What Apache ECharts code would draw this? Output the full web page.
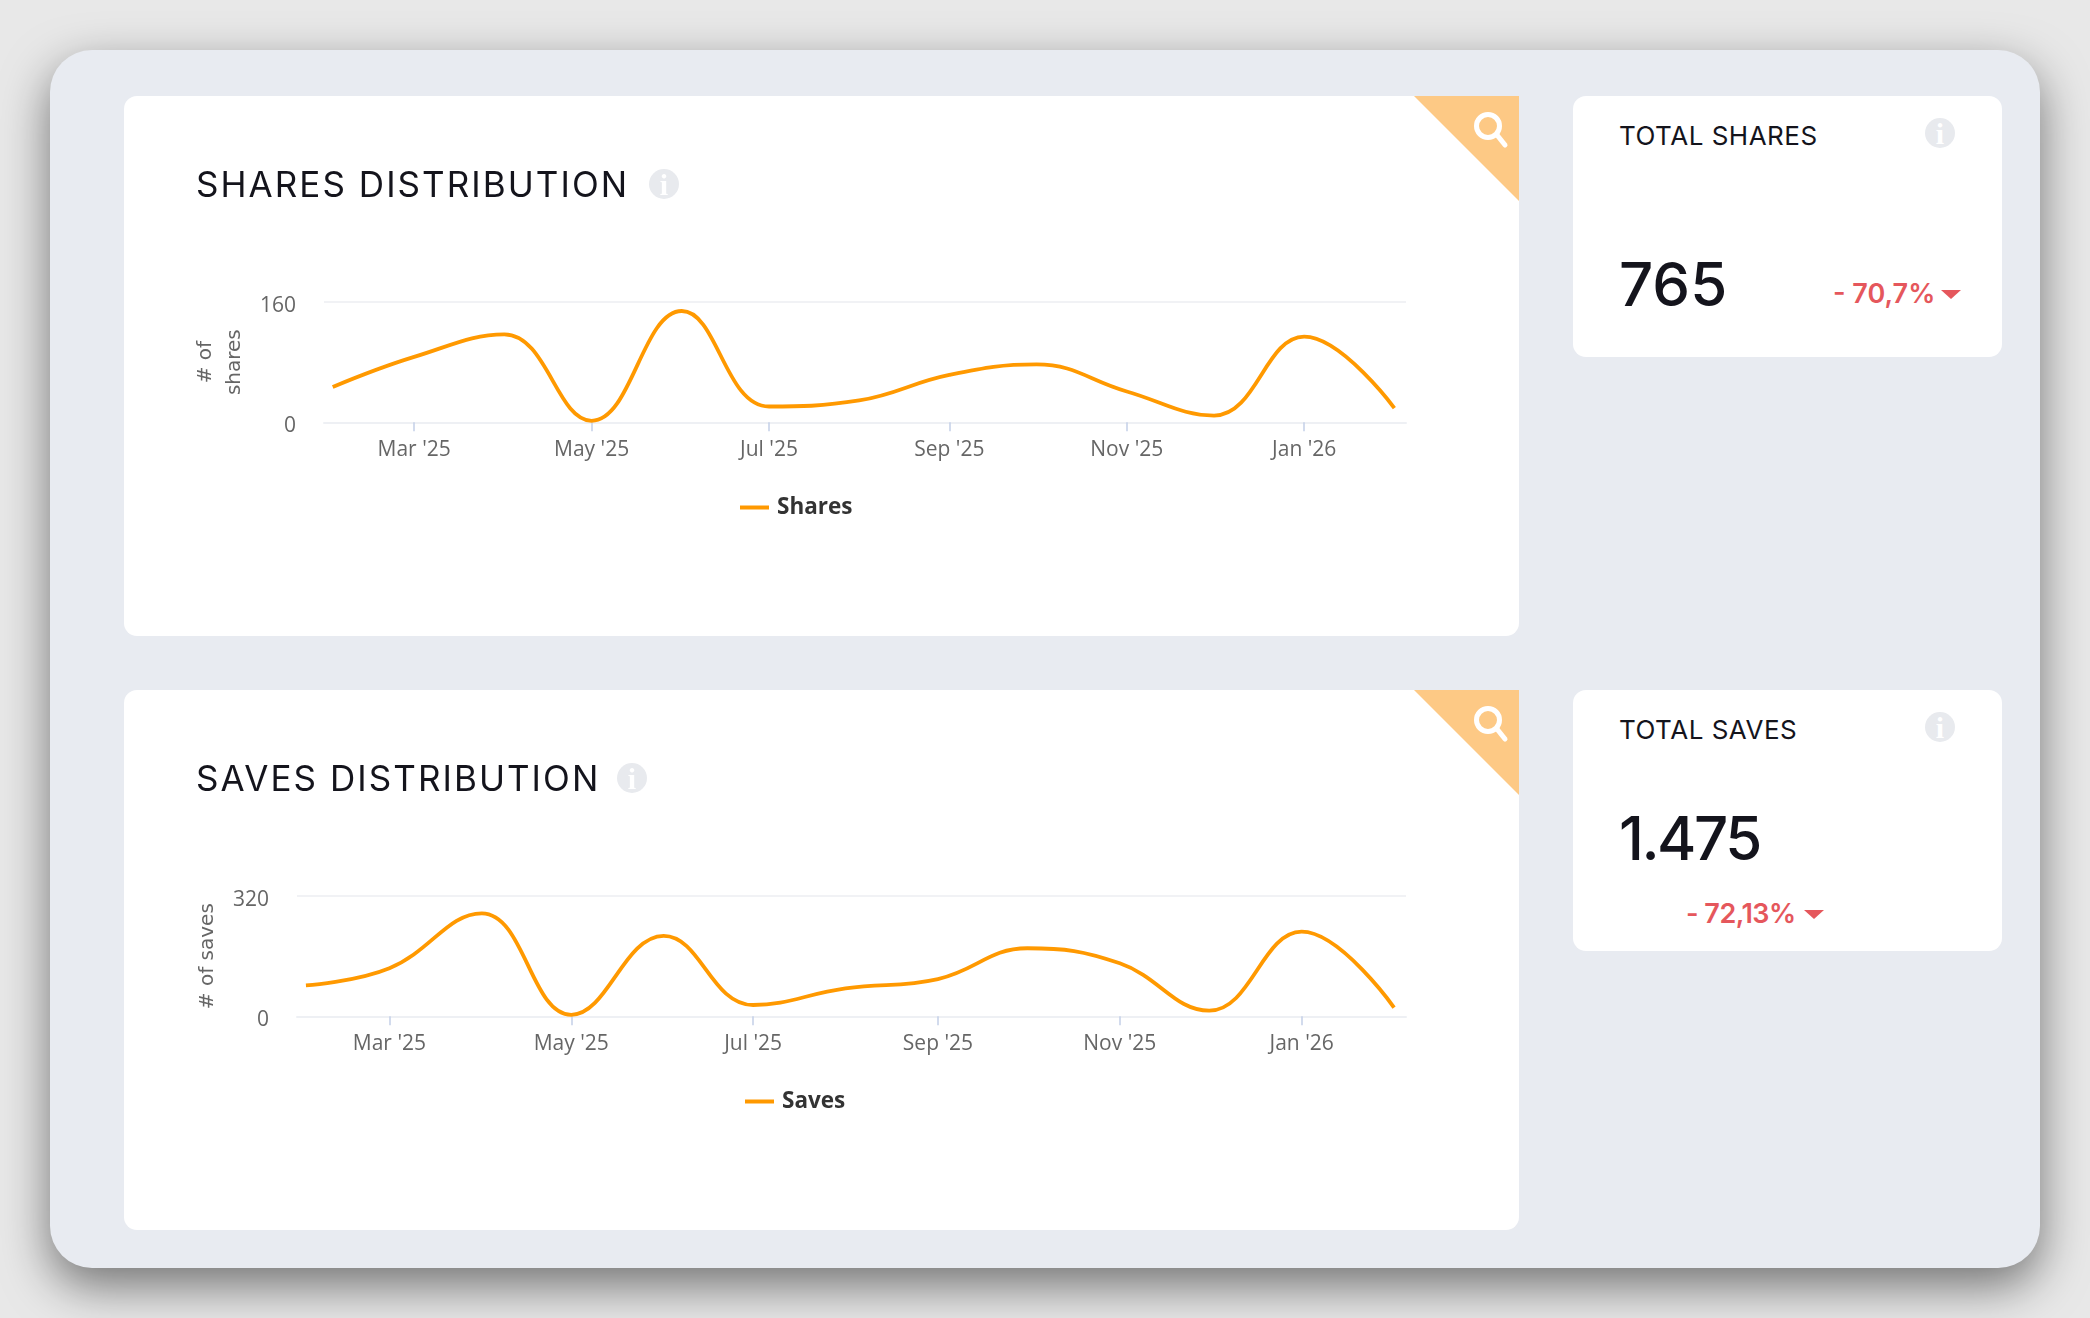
<!DOCTYPE html>
<html>
<head>
<meta charset="utf-8">
<title>Distribution</title>
<script src="https://cdn.jsdelivr.net/npm/echarts@6/dist/echarts.min.js"></script>
<style>
html, body { margin: 0; padding: 0; width: 2090px; height: 1318px; overflow: hidden; background: #e8e8e8; }
body { position: relative; font-family: Inter, sans-serif; color: #14141c; }
.shell { position: absolute; left: 50px; top: 50px; width: 1990px; height: 1218px; border-radius: 42px; background: #e8ebf1; box-shadow: 0 18px 48px rgba(0,0,0,.5); }
.card { position: absolute; background: #fff; border-radius: 13px; }
.chart-card { left: 124px; width: 1395px; height: 540px; }
.side-card { left: 1573px; width: 429px; height: 261px; }
.chart { position: absolute; left: 0; top: 0; width: 1395px; height: 540px; }
.corner { position: absolute; right: 0; top: 0; width: 105px; height: 105px; background: #fdc985; clip-path: polygon(0 0, 100% 0, 100% 100%); }
.corner svg { position: absolute; left: 55px; top: 7px; }
.text { position: absolute; white-space: nowrap; line-height: 1; }
.title { left: 72px; top: 71px; font-size: 35px; letter-spacing: 2.05px; }
.side-title { left: 46px; top: 27px; font-size: 26px; letter-spacing: .5px; }
.total { left: 46px; font-size: 60px; font-weight: 500; }
.delta { font-size: 27px; font-weight: 600; color: #e5575c; }
.info { position: absolute; width: 30px; height: 30px; border-radius: 50%; background: #e8eaee; color: #fff; font: bold 30px/31px "Liberation Serif", serif; text-align: center; }
.arrow { position: absolute; width: 0; height: 0; border-left: 10px solid transparent; border-right: 10px solid transparent; border-top: 9px solid #e5575c; }
</style>
</head>
<body>
<div class="shell"></div>

<div class="card chart-card" style="top:96px">
  <div class="chart" id="shares"></div>
  <div class="corner"><svg width="50" height="50" viewBox="0 0 50 50"><circle cx="19" cy="23" r="11.5" fill="none" stroke="#fff" stroke-width="5"/><line x1="28" y1="32" x2="36" y2="42" stroke="#fff" stroke-width="5" stroke-linecap="round"/></svg></div>
  <div class="text title">SHARES DISTRIBUTION</div>
  <div class="info" style="left:525px;top:73px">i</div>
</div>
<div class="card side-card" style="top:96px">
  <div class="text side-title">TOTAL SHARES</div>
  <div class="info" style="left:352px;top:22px">i</div>
  <div class="text total" style="top:158px">765</div>
  <div class="text delta" style="left:260px;top:184px">- 70,7%</div>
  <div class="arrow" style="left:368px;top:194px"></div>
</div>

<div class="card chart-card" style="top:690px">
  <div class="chart" id="saves"></div>
  <div class="corner"><svg width="50" height="50" viewBox="0 0 50 50"><circle cx="19" cy="23" r="11.5" fill="none" stroke="#fff" stroke-width="5"/><line x1="28" y1="32" x2="36" y2="42" stroke="#fff" stroke-width="5" stroke-linecap="round"/></svg></div>
  <div class="text title">SAVES DISTRIBUTION</div>
  <div class="info" style="left:493px;top:73px">i</div>
</div>
<div class="card side-card" style="top:690px">
  <div class="text side-title">TOTAL SAVES</div>
  <div class="info" style="left:352px;top:22px">i</div>
  <div class="text total" style="top:118px;letter-spacing:-2.5px">1.475</div>
  <div class="text delta" style="left:113px;top:210px;letter-spacing:-.5px">- 72,13%</div>
  <div class="arrow" style="left:231px;top:220px"></div>
</div>

<script type="text/javascript">
var months = ['2025-02-01','2025-03-01','2025-04-01','2025-05-01','2025-06-01','2025-07-01','2025-08-01','2025-09-01','2025-10-01','2025-11-01','2025-12-01','2026-01-01','2026-02-01'];
var sharesValues = [47, 87, 117, 2, 148, 21, 29, 63, 77, 41, 9, 114, 19];
var savesValues = [82, 128, 274, 4, 214, 30, 74, 99, 181, 141, 15, 225, 23];
var tickDates = ['2025-03-01','2025-05-01','2025-07-01','2025-09-01','2025-11-01','2026-01-01'];
var tickLabels = ["Mar '25","May '25","Jul '25","Sep '25","Nov '25","Jan '26"];
var tickTimes = tickDates.map(function (d) { return Date.parse(d); });

function drawChart(id, name, values, yMax, yName, gridLeft, nameGap, legendLeft) {
    var chart = echarts.init(document.getElementById(id));
    chart.setOption({
        animation: false,
        legend: {
            left: legendLeft,
            top: 395,
            icon: 'rect',
            itemWidth: 29,
            itemHeight: 4,
            itemGap: 8,
            data: [name],
            textStyle: { fontFamily: 'Open Sans', fontSize: 22.5, fontWeight: 'bold', color: '#333', padding: [0, 0, 0, 3] }
        },
        grid: { left: gridLeft, right: 113, top: 206, height: 120.3 },
        xAxis: {
            type: 'value',
            min: Date.parse('2025-01-29'),
            max: Date.parse('2026-02-05'),
            axisLine: { lineStyle: { color: '#eef0f4', width: 2 } },
            axisTick: { customValues: tickTimes, length: 9, lineStyle: { color: '#c4d0e8', width: 1.5 } },
            splitLine: { show: false },
            axisLabel: {
                customValues: tickTimes,
                margin: 17,
                hideOverlap: false,
                fontFamily: 'Open Sans',
                fontSize: 21,
                color: '#666',
                formatter: function (v) { return tickLabels[tickTimes.indexOf(v)]; }
            }
        },
        yAxis: {
            type: 'value',
            min: 0,
            max: yMax,
            interval: yMax,
            name: yName,
            nameLocation: 'middle',
            nameRotate: 90,
            nameGap: nameGap,
            nameTextStyle: { fontFamily: 'DejaVu Sans', fontSize: 20, color: '#666', lineHeight: 29 },
            axisLine: { show: false },
            axisTick: { show: false },
            splitLine: { lineStyle: { color: '#f1f2f5', width: 2 } },
            axisLabel: {
                margin: 28,
                formatter: '{a|{value}}',
                rich: { a: { fontFamily: 'Open Sans', fontSize: 21, color: '#666', padding: [8, 0, 0, 0] } }
            }
        },
        series: [{
            name: name,
            type: 'line',
            smooth: 0.42,
            symbol: 'none',
            clip: false,
            itemStyle: { color: '#ff9900' },
            lineStyle: { color: '#ff9900', width: 3.8 },
            data: months.map(function (m, i) { return [Date.parse(m), values[i]]; })
        }]
    });
}

drawChart('shares', 'Shares', sharesValues, 160, '# of\nshares', 200, 70, 611);
drawChart('saves', 'Saves', savesValues, 320, '# of saves', 173, 75, 616);
</script>
</body>
</html>
